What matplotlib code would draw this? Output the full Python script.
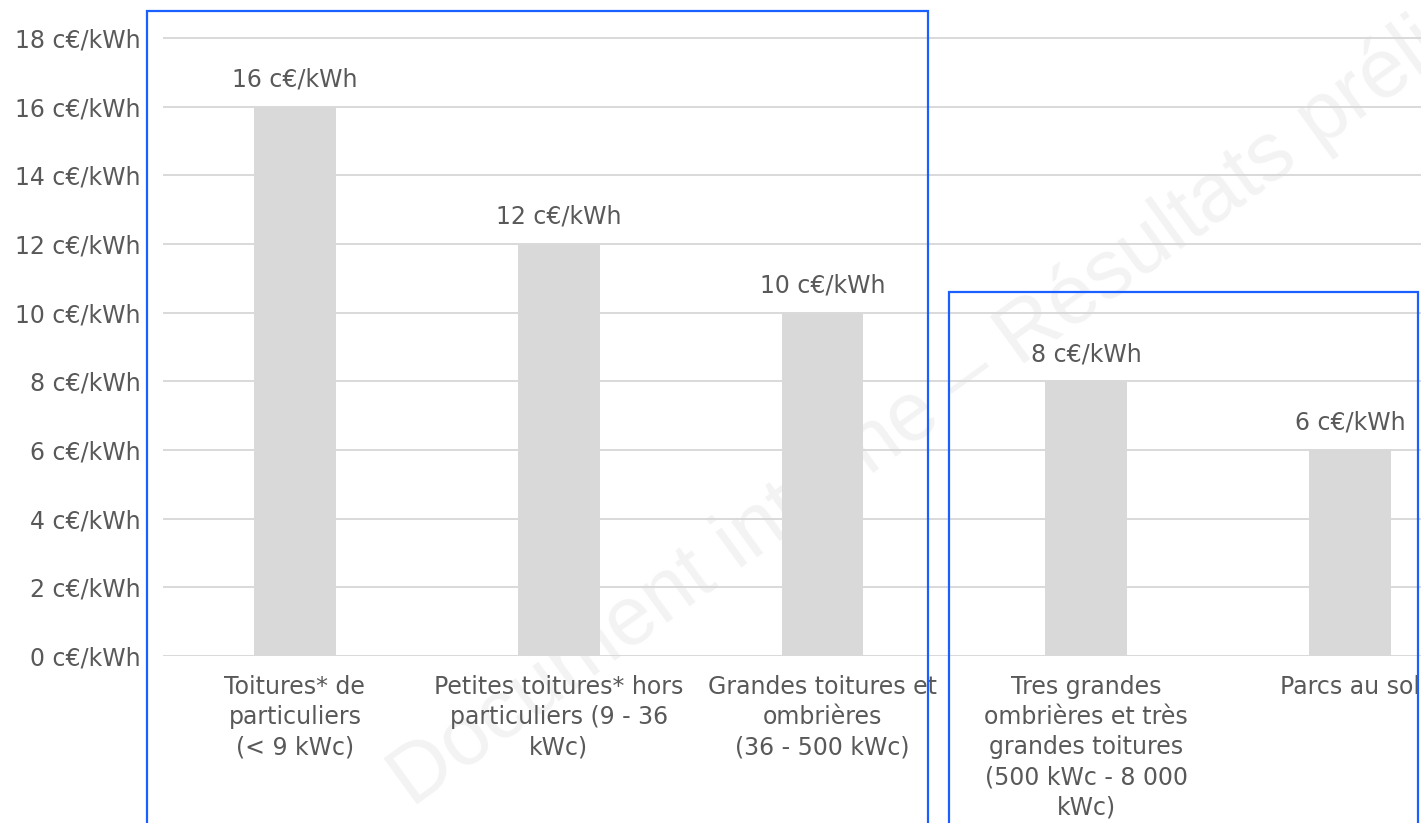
import matplotlib.pyplot as plt
from matplotlib.patches import Rectangle

categories = [
    "Toitures* de\nparticuliers\n(< 9 kWc)",
    "Petites toitures* hors\nparticuliers (9 - 36\nkWc)",
    "Grandes toitures et\nombrières\n(36 - 500 kWc)",
    "Tres grandes\nombrières et très\ngrandes toitures\n(500 kWc - 8 000\nkWc)",
    "Parcs au sol",
]
values = [16, 12, 10, 8, 6]
y_ticks = [0, 2, 4, 6, 8, 10, 12, 14, 16, 18]
unit = "c€/kWh"
watermark = "Document interne – Résultats préliminaires"

W, H = 1421, 823
TEXT = "#595959"
GREY = "#d9d9d9"
BLUE = "#1a5fff"


def main() -> None:
    plt.rcParams["font.family"] = ["DejaVu Sans"]
    fig = plt.figure(figsize=(W / 100, H / 100), dpi=100)

    # watermark behind everything
    fig.text(412 / W, 1 - 808 / H, watermark, rotation=36, rotation_mode="anchor",
             ha="left", va="baseline", fontsize=60, color="#f3f3f3",
             family="Liberation Sans", zorder=-1)

    # 0 at y=656 px, 18 at y=38 px; a bit of headroom so the top gridline is not clipped
    ymax = 18.15
    top = 656 - (656 - 38) * ymax / 18
    ax = fig.add_axes([163 / W, 1 - 656 / H, (1482 - 163) / W, (656 - top) / H])
    ax.patch.set_visible(False)

    x = list(range(len(categories)))
    bars = ax.bar(x, values, width=0.31, color=GREY, zorder=3)
    for rect, v in zip(bars, values):
        ax.annotate(f"{v} {unit}", (rect.get_x() + rect.get_width() / 2, v),
                    xytext=(0, 11), textcoords="offset points",
                    ha="center", va="bottom", fontsize=17, color=TEXT)

    ax.set_xlim(-0.5, len(categories) - 0.5)
    ax.set_ylim(0, ymax)
    ax.set_yticks(y_ticks)
    ax.set_yticklabels([f"{t} {unit}" for t in y_ticks])
    ax.set_xticks(x)
    ax.set_xticklabels(categories, linespacing=1.31)
    ax.tick_params(axis="y", length=0, pad=16, labelsize=17, labelcolor=TEXT)
    ax.tick_params(axis="x", length=0, pad=14, labelsize=17, labelcolor=TEXT)
    ax.yaxis.grid(True, color=GREY, linewidth=1.4, zorder=1)
    ax.set_axisbelow(True)
    for s in ax.spines.values():
        s.set_visible(False)

    # blue boxes around the two groups
    for x0, x1, y0 in [(147, 928, 11), (949, 1418, 292)]:
        fig.patches.append(Rectangle((x0 / W, 1 - 830 / H), (x1 - x0) / W, (830 - y0) / H,
                                     transform=fig.transFigure, fill=False,
                                     edgecolor=BLUE, linewidth=1.6, zorder=5))

    fig.savefig("out.png", dpi=100)
    plt.close(fig)


if __name__ == "__main__":
    main()
